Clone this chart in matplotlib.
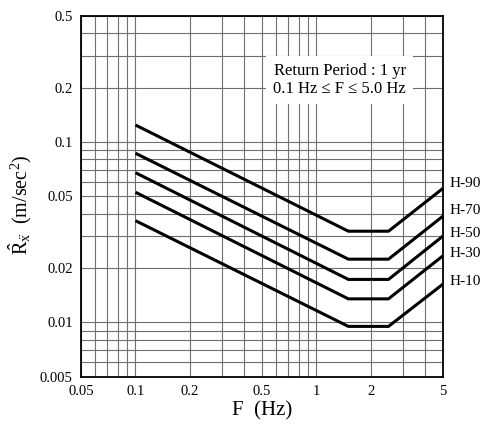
import matplotlib
matplotlib.use("Agg")
import matplotlib.pyplot as plt
from matplotlib.ticker import FixedLocator, LogLocator, NullFormatter

plt.rcParams['font.family'] = ['Liberation Serif', 'DejaVu Serif']
plt.rcParams['mathtext.fontset'] = 'custom'
plt.rcParams['mathtext.rm'] = 'Liberation Serif'
plt.rcParams['mathtext.it'] = 'Liberation Serif:italic'

# Data (frequency breakpoints and response values)
freq = [0.1, 1.5, 2.5, 5.0]
series_names = ['H-90', 'H-70', 'H-50', 'H-30', 'H-10']
h90 = [0.124, 0.032, 0.032, 0.0553]
h70 = [0.0865, 0.0224, 0.0224, 0.0388]
h50 = [0.0675, 0.0173, 0.0173, 0.0301]
h30 = [0.0526, 0.0135, 0.0135, 0.0234]
h10 = [0.0366, 0.0095, 0.0095, 0.0163]
series = [h90, h70, h50, h30, h10]
label_y = [0.0590, 0.0415, 0.0310, 0.0240, 0.0168]

xticks = [0.05, 0.1, 0.2, 0.5, 1, 2, 5]
xticklabels = ['0.05', '0.1', '0.2', '0.5', '1', '2', '5']
yticks = [0.005, 0.01, 0.02, 0.05, 0.1, 0.2, 0.5]
yticklabels = ['0.005', '0.01', '0.02', '0.05', '0.1', '0.2', '0.5']

fig = plt.figure(figsize=(4.83, 4.25), dpi=100)
ax = fig.add_axes([0.1677, 0.1136, 0.9172 - 0.1677, 0.963 - 0.1136])
ax.set_xscale('log')
ax.set_yscale('log')
ax.set_xlim(0.05, 5)
ax.set_ylim(0.005, 0.5)

ax.xaxis.set_major_locator(FixedLocator(xticks))
ax.set_xticklabels(xticklabels)
ax.yaxis.set_major_locator(FixedLocator(yticks))
ax.set_yticklabels(yticklabels)
ax.xaxis.set_minor_locator(LogLocator(base=10, subs=range(1, 10), numticks=20))
ax.yaxis.set_minor_locator(LogLocator(base=10, subs=range(1, 10), numticks=20))
ax.xaxis.set_minor_formatter(NullFormatter())
ax.yaxis.set_minor_formatter(NullFormatter())
ax.tick_params(which='both', length=0, labelsize=10.5, pad=6)
ax.grid(True, which='both', color='#6e6e6e', linewidth=0.8)
ax.set_axisbelow(True)
for s in ax.spines.values():
    s.set_linewidth(1.3)

for name, vals, ly in zip(series_names, series, label_y):
    ax.plot(freq, vals, color='black', linewidth=2.2, solid_capstyle='butt', clip_on=False, zorder=3)
    ax.text(5.45, ly, name, fontsize=11, va='center', ha='left', clip_on=False)

ax.text(0.715, 0.822, 'Return Period : 1 yr\n0.1 Hz \u2264 F \u2264 5.0 Hz', transform=ax.transAxes,
        ha='center', va='center', fontsize=12, linespacing=1.1,
        bbox=dict(facecolor='white', edgecolor='none', pad=5), zorder=4,
        family=['Liberation Serif', 'DejaVu Serif'])

ax.set_xlabel('F  (Hz)', fontsize=15, labelpad=2)
ax.set_ylabel(r'$\hat{\mathrm{R}}_{\ddot{\mathrm{x}}}$  (m/sec$^2$)', fontsize=14.5)
ax.yaxis.set_label_coords(-0.13, 0.475)

fig.savefig('out.png', dpi=100)
